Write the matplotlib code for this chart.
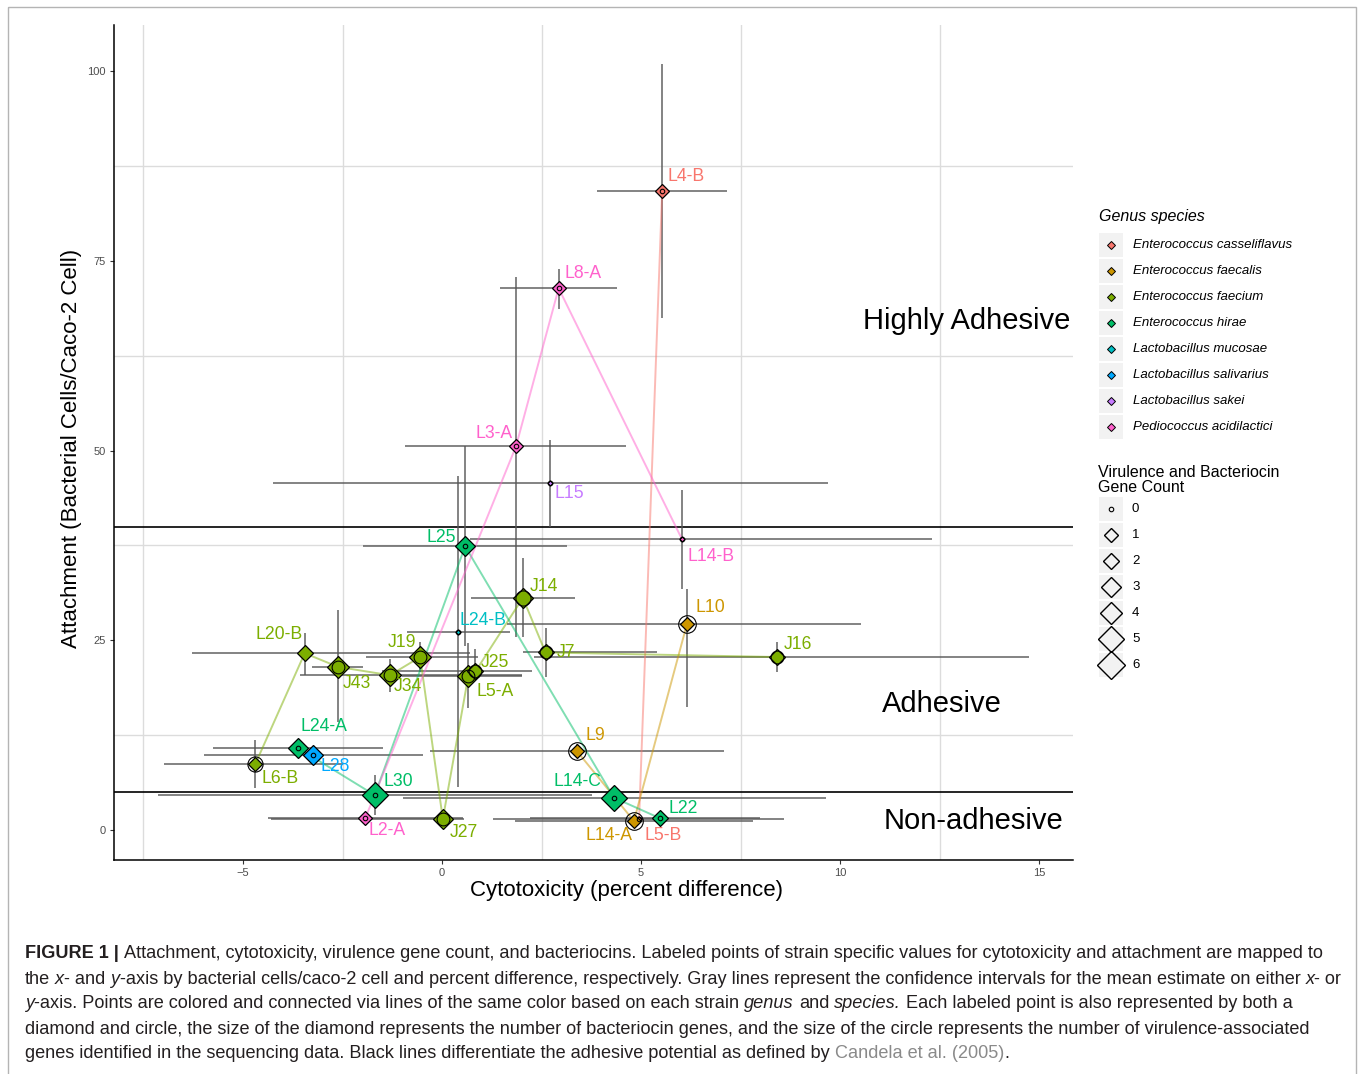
import matplotlib
matplotlib.use("Agg")
import matplotlib.pyplot as plt
from matplotlib.patches import Rectangle

plt.rcParams['font.family'] = ['Liberation Sans', 'DejaVu Sans']

# ---- data ----
SPECIES = ["Enterococcus casseliflavus", "Enterococcus faecalis", "Enterococcus faecium",
           "Enterococcus hirae", "Lactobacillus mucosae", "Lactobacillus salivarius",
           "Lactobacillus sakei", "Pediococcus acidilactici"]
SPECIES_COLORS = ["#F8766D", "#CD9600", "#7CAE00", "#00BE67",
                  "#00BFC4", "#00A9FF", "#C77CFF", "#FF61CC"]

STRAINS = ["L4-B", "L5-B", "L9", "L14-A", "L10",
           "L6-B", "L20-B", "J43", "J34", "J19", "J27", "L5-A", "J25", "J14", "J7", "J16",
           "L24-A", "L30", "L25", "L14-C", "L22",
           "L24-B", "L28", "L15",
           "L2-A", "L3-A", "L8-A", "L14-B"]
SPECIES_OF = [0, 0, 1, 1, 1,
              2, 2, 2, 2, 2, 2, 2, 2, 2, 2, 2,
              3, 3, 3, 3, 3,
              4, 5, 6,
              7, 7, 7, 7]
CYTO = [5.53, 4.95, 3.38, 4.82, 6.15,
        -4.69, -3.45, -2.61, -1.31, -0.55, 0.02, 0.66, 0.84, 2.03, 2.60, 8.41,
        -3.63, -1.69, 0.58, 4.32, 5.48,
        0.39, -3.23, 2.71,
        -1.93, 1.86, 2.93, 6.03]
CYTO_LO = [3.89, 1.28, -0.30, 1.83, 1.63,
           -6.98, -6.28, -3.27, -3.57, -1.90, -4.30, -1.00, -1.50, 0.72, 2.03, 2.30,
           -5.75, -7.14, -1.99, -0.98, 2.20,
           -0.89, -5.98, -4.25,
           -4.37, -0.93, 1.46, 0.70]
CYTO_HI = [7.16, 8.60, 7.09, 7.81, 10.52,
           -2.50, 0.70, -1.98, 2.00, 0.90, 0.55, 2.00, 2.25, 3.34, 5.40, 14.75,
           -1.49, 3.76, 3.14, 9.65, 8.00,
           1.71, -0.47, 9.70,
           0.53, 4.61, 4.40, 12.30]
ATTACH = [84.2, 1.45, 10.45, 1.19, 27.1,
          8.7, 23.3, 21.5, 20.4, 22.8, 1.45, 20.3, 20.9, 30.6, 23.4, 22.8,
          10.85, 4.6, 37.4, 4.26, 1.54,
          26.1, 9.95, 45.7,
          1.54, 50.6, 71.4, 38.3]
ATTACH_LO = [67.5, 1.0, 9.5, 0.5, 16.2,
             5.5, 20.4, 14.3, 18.2, 20.8, 0.4, 16.1, 20.6, 25.5, 20.2, 20.8,
             10.0, 2.0, 24.2, 3.5, 1.0,
             5.7, 8.9, 40.0,
             1.0, 25.4, 68.7, 31.8]
ATTACH_HI = [101.0, 1.9, 11.4, 1.9, 31.75,
             11.9, 26.0, 29.0, 22.5, 24.8, 2.5, 24.6, 23.9, 35.8, 26.6, 24.8,
             11.7, 7.2, 50.6, 5.0, 2.1,
             46.6, 10.9, 51.4,
             2.1, 72.9, 74.0, 44.8]
BACTERIOCIN = [1, 0, 1, 1, 1,
               1, 2, 4, 4, 4, 3, 4, 2, 3, 2, 2,
               3, 5, 3, 5, 2,
               0, 3, 0,
               1, 1, 1, 0]
VIRULENCE = [0, 0, 4, 4, 4,
             3, 0, 2, 2, 2, 2, 2, 2, 3, 2, 2,
             0, 0, 0, 0, 0,
             0, 0, 0,
             0, 0, 0, 0]
COUNT_LEVELS = [0, 1, 2, 3, 4, 5, 6]

# label offsets from point (pixels, right/up)
LABEL_OFFSETS = [(24, 15), (24, -16), (19, 15), (-25, -14), (24, 17),
                 (25, -14), (-26, 19), (19, -17), (18, -11), (-18, 15), (21, -13), (27, -15),
                 (19, 9), (21, 11), (20, 0), (21, 13),
                 (26, 21), (24, 14), (-24, 9), (-37, 16), (23, 10),
                 (25, 11), (22, -12), (19, -10),
                 (22, -12), (-22, 13), (24, 15), (29, -17)]

# diamond width / circle diameter in pixels for each count
DIAMOND_PX = [5, 13, 16, 19, 22, 25, 27]
PT = 0.72  # points per pixel at dpi 100


def diamond_ms(n):
    return DIAMOND_PX[n] * PT / 1.4142


def circle_ms(n):
    return (4.5 if n == 0 else DIAMOND_PX[n] / 1.2533) * PT


fig = plt.figure(figsize=(13.6, 10.74), dpi=100)
ax = fig.add_axes([114 / 1360, 1 - 860 / 1074, 959 / 1360, 835 / 1074])
ax.set_xlim(-8.24, 15.85)
ax.set_ylim(-3.95, 106.1)

for s in ["top", "right"]:
    ax.spines[s].set_visible(False)
for s in ["left", "bottom"]:
    ax.spines[s].set_linewidth(1.1)

ax.set_xticks([-5, 0, 5, 10, 15])
ax.set_yticks([0, 25, 50, 75, 100])
ax.set_xticks([-7.5, -2.5, 2.5, 7.5, 12.5], minor=True)
ax.set_yticks([12.5, 37.5, 62.5, 87.5], minor=True)
ax.grid(which="minor", color="#dcdcdc", lw=1.0)
ax.tick_params(which="minor", length=0)
ax.tick_params(which="major", length=3, width=0.8, color="#333333",
               labelsize=8, labelcolor="#4d4d4d", pad=3)
ax.set_axisbelow(True)

ax.set_xlabel("Cytotoxicity (percent difference)", fontsize=16)
ax.xaxis.set_label_coords(0.534, -0.036)
ax.xaxis.label.set_va("center")
ax.set_ylabel("Attachment (Bacterial Cells/Caco-2 Cell)", fontsize=16)
ax.yaxis.set_label_coords(-0.0438, 0.493)
ax.yaxis.label.set_va("center")

# adhesion thresholds
ax.axhline(40, color="black", lw=1.2, zorder=1)
ax.axhline(5, color="black", lw=1.2, zorder=1)

# confidence intervals
ax.hlines(ATTACH, CYTO_LO, CYTO_HI, color="#555555", lw=1.2, alpha=0.85, zorder=2)
ax.vlines(CYTO, ATTACH_LO, ATTACH_HI, color="#555555", lw=1.2, alpha=0.85, zorder=2)

# lines within species, ordered by x
for k, col in enumerate(SPECIES_COLORS):
    pts = sorted((CYTO[i], ATTACH[i]) for i in range(len(STRAINS)) if SPECIES_OF[i] == k)
    if len(pts) > 1:
        ax.plot([p[0] for p in pts], [p[1] for p in pts], color=col, alpha=0.5, lw=1.4, zorder=3)

# points: diamond by bacteriocin count, open circle by virulence count
for i, name in enumerate(STRAINS):
    col = SPECIES_COLORS[SPECIES_OF[i]]
    ax.plot(CYTO[i], ATTACH[i], marker="D", ms=diamond_ms(BACTERIOCIN[i]),
            mfc=col, mec="black", mew=0.9, ls="none", zorder=4)
    if not (name == "L20-B"):
        ax.plot(CYTO[i], ATTACH[i], marker="o", ms=circle_ms(VIRULENCE[i]),
                mfc="none", mec="black", mew=0.8, ls="none", zorder=5)
    dx, dy = LABEL_OFFSETS[i]
    ax.annotate(name, (CYTO[i], ATTACH[i]), xytext=(dx * PT, dy * PT),
                textcoords="offset points", ha="center", va="center",
                fontsize=12.7, color=col, zorder=6)

ax.text(13.17, 67.1, "Highly Adhesive", ha="center", va="center", fontsize=21)
ax.text(12.56, 16.6, "Adhesive", ha="center", va="center", fontsize=21)
ax.text(13.34, 1.2, "Non-adhesive", ha="center", va="center", fontsize=21)

# ---- overlay: legends, caption, frame ----
ov = fig.add_axes([0, 0, 1, 1])
ov.set_xlim(0, 1360)
ov.set_ylim(1074, 0)
ov.axis("off")
ov.patch.set_alpha(0)

ov.add_patch(Rectangle((8, 7), 1348, 1100, fill=False, ec="#b4b4b4", lw=1))

ov.text(1099, 217, "Genus species", style="italic", fontsize=11.5, va="center")
for i, (sp, col) in enumerate(zip(SPECIES, SPECIES_COLORS)):
    yc = 245 + 26 * i
    ov.add_patch(Rectangle((1099, yc - 12), 24, 24, fc="#f2f2f2", ec="none"))
    ov.plot(1111, yc, marker="D", ms=5.7 * PT / 1.4142 * 1.4, mfc=col, mec="black", mew=0.7)
    ov.text(1133, yc, sp, style="italic", fontsize=9.5, va="center")

ov.text(1098, 480, "Virulence and Bacteriocin\nGene Count", fontsize=11.5, va="center",
        linespacing=0.95)
for i, n in enumerate(COUNT_LEVELS):
    yc = 509 + 26 * i
    ov.add_patch(Rectangle((1099, yc - 12), 24, 24, fc="#f2f2f2", ec="none"))
    if n == 0:
        ov.plot(1111, yc, marker="o", ms=circle_ms(0), mfc="none", mec="black", mew=0.8)
    else:
        ov.plot(1111, yc, marker="D", ms=diamond_ms(n), mfc="none", mec="black", mew=1.0)
    ov.text(1132, yc, str(n), fontsize=9.5, va="center")

# caption, rich text laid out segment by segment
CAPTION = [
    [("FIGURE 1 |", "bold"), (" Attachment, cytotoxicity, virulence gene count, and bacteriocins. "
      "Labeled points of strain specific values for cytotoxicity and attachment are mapped to", "normal")],
    [("the ", "normal"), ("x", "italic"), ("- and ", "normal"), ("y", "italic"),
     ("-axis by bacterial cells/caco-2 cell and percent difference, respectively. Gray lines "
      "represent the confidence intervals for the mean estimate on either ", "normal"),
     ("x", "italic"), ("- or", "normal")],
    [("y", "italic"), ("-axis. Points are colored and connected via lines of the same color based "
      "on each strain ", "normal"), ("genus", "italic"), (" and ", "normal"), ("species.", "italic"),
     (" Each labeled point is also represented by both a", "normal")],
    [("diamond and circle, the size of the diamond represents the number of bacteriocin genes, "
      "and the size of the circle represents the number of virulence-associated", "normal")],
    [("genes identified in the sequencing data. Black lines differentiate the adhesive potential "
      "as defined by ", "normal"), ("Candela et al. (2005)", "gray"), (".", "normal")],
]
CAP_SIZE = 13.05
renderer = fig.canvas.get_renderer()
probe_a = ov.text(0, 0, "xx", fontsize=CAP_SIZE)
probe_b = ov.text(0, 0, "x x", fontsize=CAP_SIZE)
space_w = probe_b.get_window_extent(renderer).width - probe_a.get_window_extent(renderer).width
probe_a.remove()
probe_b.remove()

for li, line in enumerate(CAPTION):
    x = 25
    y = 954 + 25 * li
    for seg, style in line:
        lead = len(seg) - len(seg.lstrip(" "))
        trail = len(seg) - len(seg.rstrip(" "))
        x += lead * space_w
        kw = dict(fontsize=CAP_SIZE, va="center", color="#231f20")
        if style == "bold":
            kw["fontweight"] = "bold"
        elif style == "italic":
            kw["style"] = "italic"
        elif style == "gray":
            kw["color"] = "#8a8a8a"
        t = ov.text(x, y, seg.strip(" "), **kw)
        x += t.get_window_extent(renderer).width + trail * space_w

fig.savefig("out.png", dpi=100)
